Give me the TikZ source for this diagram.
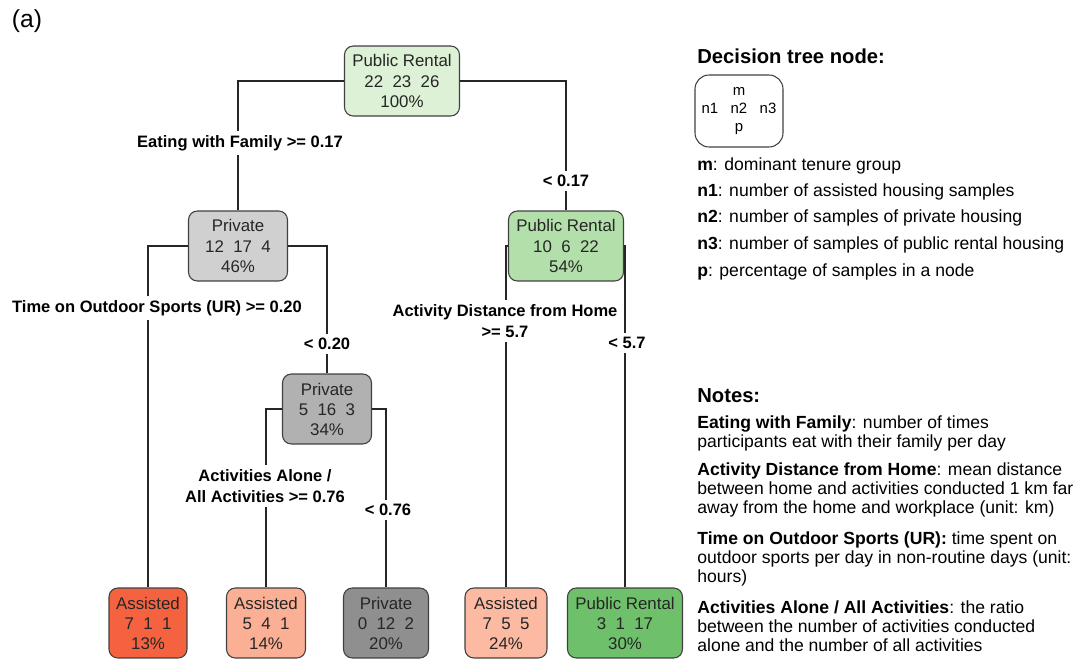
\documentclass[tikz,border=0pt]{standalone}
\usepackage{fontspec}
\setmainfont{Liberation Sans}
\usetikzlibrary{positioning}

\definecolor{rentlight}{HTML}{DCF1D5}
\definecolor{rentmid}{HTML}{B3DFAA}
\definecolor{rentdark}{HTML}{6EC06B}
\definecolor{privlight}{HTML}{D0D0D0}
\definecolor{privmid}{HTML}{B1B1B1}
\definecolor{privdark}{HTML}{8F8F8F}
\definecolor{assdark}{HTML}{F4623F}
\definecolor{asslight}{HTML}{FBB096}
\definecolor{asspale}{HTML}{FBBAA1}

\tikzset{
	treenode/.style={rectangle, rounded corners=5pt, draw=black!75, line width=0.6pt,
		align=center, text=black!85, font=\fontsize{9.6}{11.4}\selectfont,
		minimum height=1.4cm, inner sep=2pt},
	splitlabel/.style={fill=white, inner sep=2.5pt, align=center,
		font=\bfseries\fontsize{9.4}{11.6}\selectfont},
	branch/.style={draw=black!85, line width=0.6pt},
	legendtext/.style={anchor=base west, inner sep=0pt, align=left,
		font=\fontsize{10}{11}\selectfont},
	notetext/.style={legendtext, anchor=north west},
	heading/.style={anchor=base west, inner sep=0pt, font=\bfseries\fontsize{11.5}{13}\selectfont},
}

\begin{document}
\begin{tikzpicture}[
		x=0.02cm, y=-0.02cm,
		thin,
	]
		\useasboundingbox (0,0) rectangle (1078,662);

		\node[font=\fontsize{14}{16}\selectfont] (panel) at (27,21) {(a)};

		% tree nodes
		\node[treenode, fill=rentlight, minimum width=2.3cm] (root) at (402,81) {Public Rental\\22\ \ 23\ \ 26\\100\%};
		\node[treenode, fill=privlight, minimum width=1.98cm] (priv1) at (238,246) {Private\\12\ \ 17\ \ 4\\46\%};
		\node[treenode, fill=rentmid, minimum width=2.3cm] (rent1) at (566,246) {Public Rental\\10\ \ 6\ \ 22\\54\%};
		\node[treenode, fill=privmid, minimum width=1.78cm] (priv2) at (327,409) {Private\\5\ \ 16\ \ 3\\34\%};

		% leaves
		\node[treenode, fill=assdark, minimum width=1.56cm] (ass1) at (148,623) {Assisted\\7\ \ 1\ \ 1\\13\%};
		\node[treenode, fill=asslight, minimum width=1.58cm] (ass2) at (266,623) {Assisted\\5\ \ 4\ \ 1\\14\%};
		\node[treenode, fill=privdark, minimum width=1.7cm] (priv3) at (386,623) {Private\\0\ \ 12\ \ 2\\20\%};
		\node[treenode, fill=asspale, minimum width=1.64cm] (ass3) at (506,623) {Assisted\\7\ \ 5\ \ 5\\24\%};
		\node[treenode, fill=rentdark, minimum width=2.3cm] (rent2) at (625,623) {Public Rental\\3\ \ 1\ \ 17\\30\%};

		% branches
		\draw[branch] (root.west) -| (priv1.north);
		\draw[branch] (root.east) -| (rent1.north);
		\draw[branch] (priv1.west) -| (ass1.north);
		\draw[branch] (priv1.east) -| (priv2.north);
		\draw[branch] (rent1.west) -| (ass3.north);
		\draw[branch] (rent1.east) -| (rent2.north);
		\draw[branch] (priv2.west) -| (ass2.north);
		\draw[branch] (priv2.east) -| (priv3.north);

		% split labels
		\node[splitlabel] (split1) at (240,143) {Eating with Family >= 0.17};
		\node[splitlabel] (split2) at (566,181) {< 0.17};
		\node[splitlabel] (split3) at (157,308) {Time on Outdoor Sports (UR) >= 0.20};
		\node[splitlabel] (split4) at (327,344) {< 0.20};
		\node[splitlabel] (split5) at (505,321) {Activity Distance from Home\\>= 5.7};
		\node[splitlabel] (split6) at (627,343) {< 5.7};
		\node[splitlabel] (split7) at (265,486) {Activities Alone /\\All Activities >= 0.76};
		\node[splitlabel] (split8) at (388,510) {< 0.76};

		% legend
		\node[heading] (legtitle) at (697,64) {Decision tree node:};
		\node[rectangle, rounded corners=8pt, draw=black!75, line width=0.6pt,
			minimum width=1.76cm, minimum height=1.44cm, align=center,
			font=\fontsize{8.5}{10.2}\selectfont] (legnode) at (739,111) {m\\n1\ \ \ n2\ \ \ n3\\p};
		\node[legendtext] (keym) at (697,171) {\textbf{m}: dominant tenure group};
		\node[legendtext] (keyn1) at (697,197) {\textbf{n1}: number of assisted housing samples};
		\node[legendtext] (keyn2) at (697,223) {\textbf{n2}: number of samples of private housing};
		\node[legendtext] (keyn3) at (697,250) {\textbf{n3}: number of samples of public rental housing};
		\node[legendtext] (keyp) at (697,276) {\textbf{p}: percentage of samples in a node};

		% notes
		\node[heading] (notes) at (697,402) {Notes:};
		\node[notetext] (note1) at (697,415) {\textbf{Eating with Family}: number of times\\participants eat with their family per day};
		\node[notetext] (note2) at (697,462) {\textbf{Activity Distance from Home}: mean distance\\between home and activities conducted 1 km far\\away from the home and workplace (unit: km)};
		\node[notetext] (note3) at (697,531) {\textbf{Time on Outdoor Sports (UR):} time spent on\\outdoor sports per day in non-routine days (unit:\\hours)};
		\node[notetext] (note4) at (697,600) {\textbf{Activities Alone / All Activities}: the ratio\\between the number of activities conducted\\alone and the number of all activities};
	\end{tikzpicture}
\end{document}
